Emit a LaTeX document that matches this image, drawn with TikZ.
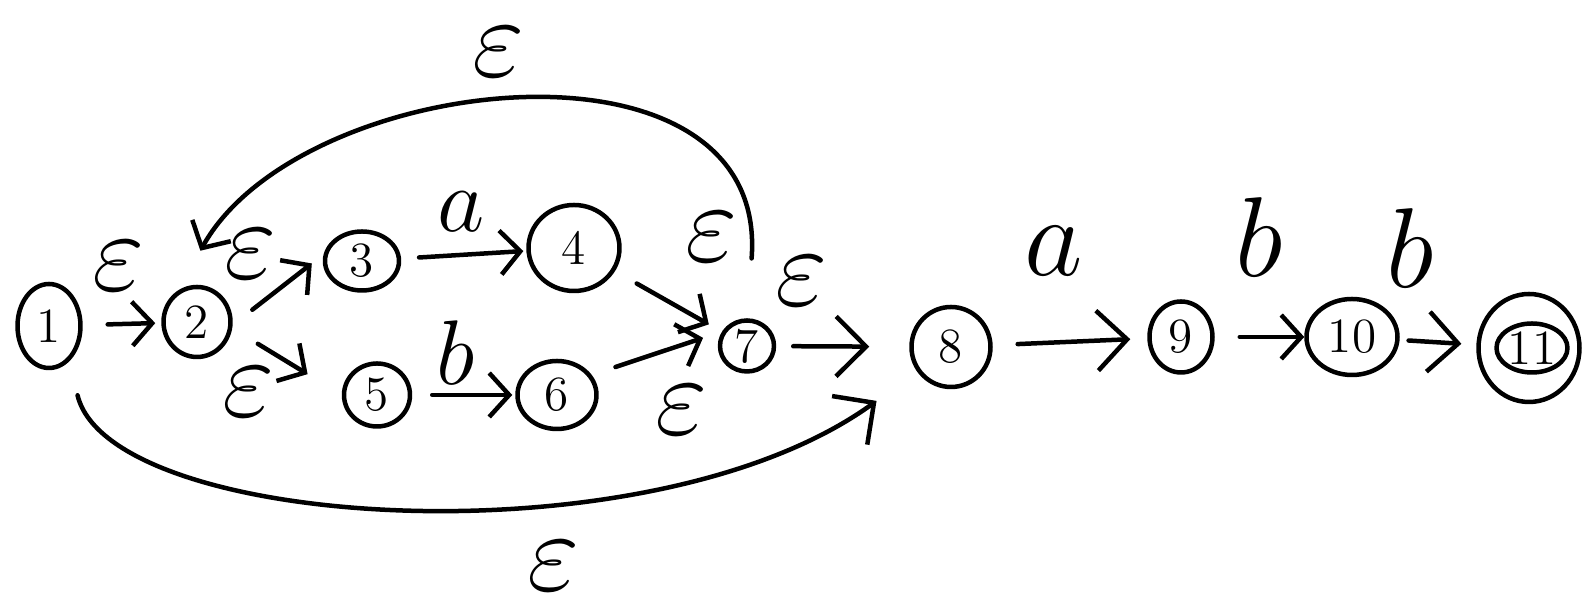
\documentclass[tikz,border=0pt]{standalone}
\usepackage{graphicx}
\usepackage{tikz}
\usetikzlibrary{shapes.geometric, arrows.meta, positioning}
\newcommand{\lsym}[2][1.3]{\scalebox{#1}{$#2$}}

\begin{document}
\begin{tikzpicture}[x=0.1mm, y=-0.1mm, line width=0.45mm, line cap=round, line join=round,
    state/.style={draw, ellipse, inner sep=0pt, font=\fontsize{14}{16}\selectfont},
    arr/.style={-{Straight Barb[length=2mm, width=4.4mm]}},
    arrbig/.style={-{Straight Barb[length=3mm, width=6mm]}},
    lbl/.style={inner sep=0pt, font=\Huge}
]
    \useasboundingbox (0,0) rectangle (1588,607);
    % states
    \node[state, minimum width=6.3mm, minimum height=8.4mm] (n1) at (49,326) {1};
    \node[state, minimum width=6.7mm, minimum height=7mm] (n2) at (197,322) {2};
    \node[state, minimum width=7.4mm, minimum height=5.9mm] (n3) at (362,261) {3};
    \node[state, minimum width=9.1mm, minimum height=8.6mm] (n4) at (574,248) {4};
    \node[state, minimum width=6.6mm, minimum height=6.3mm] (n5) at (377,395) {5};
    \node[state, minimum width=7.9mm, minimum height=6.8mm] (n6) at (557,395) {6};
    \node[state, minimum width=5.4mm, minimum height=5.1mm] (n7) at (747,346) {7};
    \node[state, minimum width=7.9mm, minimum height=8mm] (n8) at (951,347) {8};
    \node[state, minimum width=6.3mm, minimum height=7.1mm] (n9) at (1181,337) {9};
    \node[state, minimum width=9.1mm, minimum height=7.6mm] (n10) at (1352,337) {10};
    \node[state, minimum width=7.1mm, minimum height=4.9mm] (n11) at (1532,348) {11};
    \node[state, minimum width=10.1mm, minimum height=10.8mm] (n11o) at (1529,348) {};
    % transitions
    \draw[arr, shorten <=2.5mm, shorten >=0.6mm] (n1) -- node[lbl, shift={(-3,-58)}] (e12) {\lsym{\varepsilon}} (n2);
    \draw[arr, shorten <=2.5mm, shorten >=1.5mm] (n2.-5) -- node[lbl, shift={(-28,-36)}] (e23) {\lsym{\varepsilon}} (n3.170);
    \draw[arr, shorten <=3mm, shorten >=4mm] (n2.-10) -- node[lbl, shift={(-38,30)}] (e25) {\lsym{\varepsilon}} (n5.west);
    \draw[arr, shorten <=1.8mm, shorten >=0.3mm] (n3) -- node[lbl, shift={(-3,-43)}] (e34) {\lsym[1.05]{a}} (n4);
    \draw[arr, shorten <=2mm, shorten >=0.3mm] (n5) -- node[lbl, shift={(-8,-42)}] (e56) {\lsym[1.05]{b}} (n6);
    \draw[arr, shorten <=2.5mm, shorten >=1.5mm] (n4) -- node[lbl, shift={(43,-64)}] (e47) {\lsym{\varepsilon}} (n7);
    \draw[arr, shorten <=2.5mm, shorten >=2mm] (n6.30) -- node[lbl, shift={(25,57)}] (e67) {\lsym{\varepsilon}} (n7.150);
    \draw[arrbig, shorten <=1.7mm, shorten >=4mm] (n7) -- node[lbl, shift={(-41,-65)}] (e78) {\lsym{\varepsilon}} (n8);
    \draw[arrbig, shorten <=2.5mm, shorten >=1.7mm] (n8) -- node[lbl, shift={(-16,-91)}] (e89) {\lsym{a}} (n9);
    \draw[arr, shorten <=2.5mm, shorten >=0mm] (n9) -- node[lbl, shift={(0,-100)}] (e910) {\lsym{b}} (n10);
    \draw[arrbig, shorten <=0.9mm, shorten >=1.5mm] (n10) -- node[lbl, shift={(-28,-94)}] (e1011) {\lsym{b}} (n11o);
    % loop back and skip
    \draw[arr, shorten <=6mm, shorten >=4.5mm] (n7.north) .. controls (770,20) and (300,71) .. node[lbl, shift={(-18,-58)}] (e72) {\lsym{\varepsilon}} (n2.120);
    \draw[arrbig, shorten <=3.5mm, shorten >=5mm] (n1.-60) .. controls (110,530) and (650,565) .. node[lbl, shift={(145,64)}] (e18) {\lsym{\varepsilon}} (n8);
\end{tikzpicture}
\end{document}
